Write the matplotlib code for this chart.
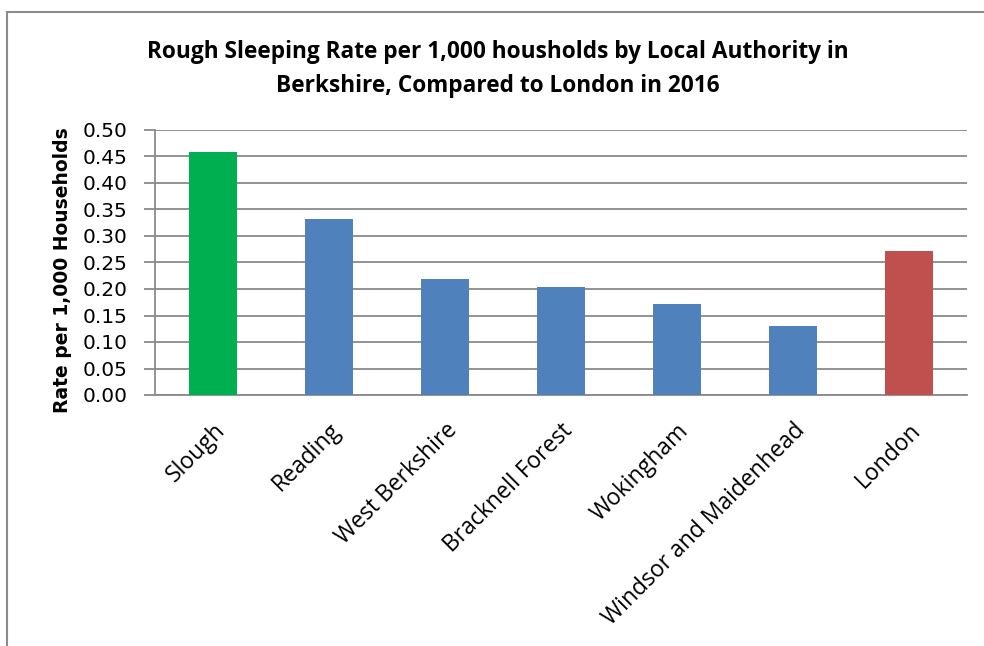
import matplotlib
matplotlib.use("Agg")
import matplotlib.pyplot as plt
from matplotlib.patches import Rectangle

categories = ["Slough", "Reading", "West Berkshire", "Bracknell Forest",
              "Wokingham", "Windsor and Maidenhead", "London"]
values = [0.458, 0.333, 0.218, 0.203, 0.172, 0.131, 0.271]
bar_colors = ["#00B050", "#4F81BD", "#4F81BD", "#4F81BD", "#4F81BD", "#4F81BD", "#C0504D"]
yticks = [0.00, 0.05, 0.10, 0.15, 0.20, 0.25, 0.30, 0.35, 0.40, 0.45, 0.50]
title = "Rough Sleeping Rate per 1,000 housholds by Local Authority in\nBerkshire, Compared to London in 2016"
ylabel = "Rate per 1,000 Households"

W, H = 984, 646
fig = plt.figure(figsize=(W / 100, H / 100), dpi=100)

# outer chart border (partially cut off on right/bottom)
fig.patches.append(Rectangle((7 / W, -0.1), 1.2, 1 - 12 / H + 0.1,
                             transform=fig.transFigure, fill=False,
                             edgecolor="#8c8c8c", linewidth=1.5))

ax = fig.add_axes([155 / W, 1 - 395 / H, (967 - 155) / W, (395 - 130) / H])
x = list(range(len(categories)))
ax.bar(x, values, width=0.41, color=bar_colors, zorder=3)
ax.set_xlim(-0.5, len(categories) - 0.5)
ax.set_ylim(0, 0.5)
ax.set_yticks(yticks)
ax.set_yticklabels([f"{v:.2f}" for v in yticks], fontfamily="DejaVu Sans", fontsize=14.5)
ax.yaxis.grid(True, color="#8a8a8a", linewidth=1.3, zorder=0)
ax.set_axisbelow(True)
for s in ["top", "right"]:
    ax.spines[s].set_visible(False)
for s in ["left", "bottom"]:
    ax.spines[s].set_color("#8a8a8a")
    ax.spines[s].set_linewidth(1.3)
ax.tick_params(axis="y", length=8, width=1.3, color="#8a8a8a", pad=12)
ax.tick_params(axis="x", length=0, pad=17)
ax.set_xticks(x)
ax.set_xticklabels(categories, rotation=45, ha="right", rotation_mode="anchor",
                   fontfamily="Open Sans", fontsize=16.5)

fig.text(63 / W, 1 - 270 / H, ylabel, rotation=90, ha="center", va="center",
         fontfamily="DejaVu Sans", fontweight="bold", fontsize=13.5)
fig.text(498 / W, 1 - 69 / H, title, ha="center", va="center", fontfamily="Open Sans",
         fontweight="bold", fontsize=16.3, linespacing=1.6)

fig.savefig("out.png", dpi=100)
